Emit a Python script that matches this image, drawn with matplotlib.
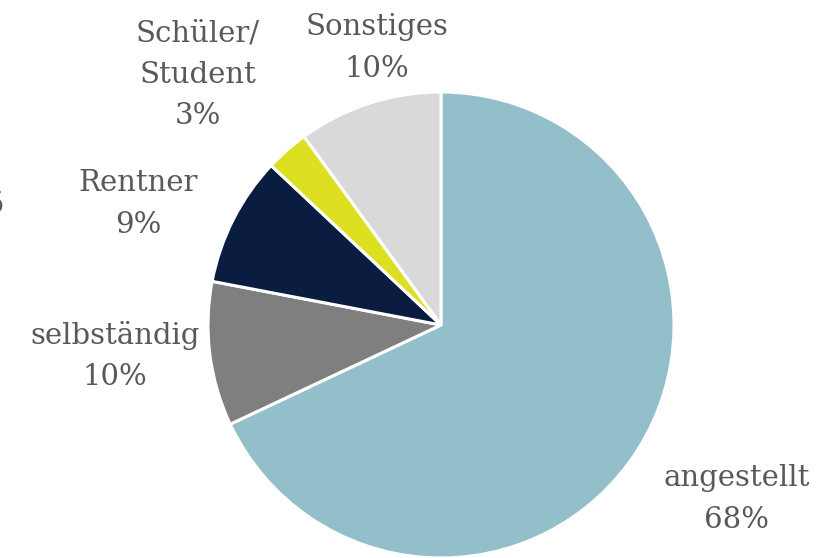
import matplotlib.pyplot as plt

# share of respondents by occupation
labels = ['angestellt', 'selbständig', 'Rentner', 'Schüler/\nStudent', 'Sonstiges']
values = [68, 10, 9, 3, 10]
colors = ['#93BFCB', '#7F7F7F', '#0A1C3F', '#DCE021', '#D9D9D9']

# label centres in axis units (pie radius = 1)
label_pos = [(1.27, -0.747), (-1.399, -0.133), (-1.30, 0.519), (-1.043, 1.073), (-0.275, 1.189)]

text_color = '#595959'
font_size = 21

fig = plt.figure(figsize=(8.17, 5.58), dpi=100)
ax = fig.add_axes([0, 0, 1, 1])

wedges, _ = ax.pie(values, colors=colors, startangle=90, counterclock=False,
                   wedgeprops=dict(edgecolor='white', linewidth=2.2))

for lab, val, (x, y) in zip(labels, values, label_pos):
    ax.text(x, y, lab + '\n' + str(val) + '%', ha='center', va='center',
            fontsize=font_size, family='DejaVu Serif', color=text_color,
            linespacing=1.6)

# cut-off label at the left edge
fig.text(-0.006, 0.633, '5', ha='center', va='center', fontsize=font_size,
         family='DejaVu Serif', color=text_color)

scale = 233.0
ax.set_xlim(-441 / scale, (817 - 441) / scale)
ax.set_ylim(-(558 - 325) / scale, 325 / scale)
ax.set_aspect('auto')
ax.axis('off')

plt.savefig('out.png', dpi=100)
